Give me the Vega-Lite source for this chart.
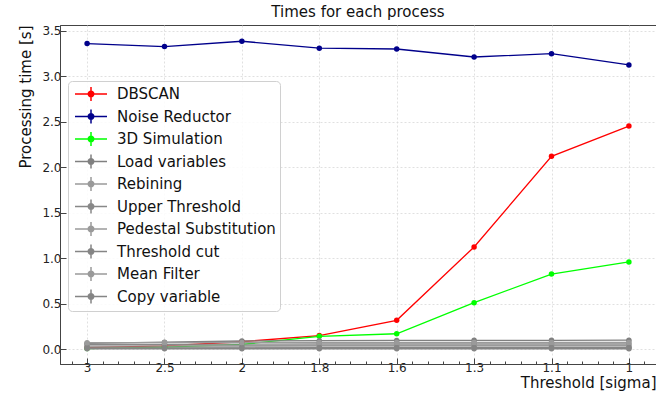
{
  "$schema": "https://vega.github.io/schema/vega-lite/v6.json",
  "autosize": "none",
  "width": 596,
  "height": 339,
  "padding": {"left": 60, "top": 25, "right": 0, "bottom": 32},
  "background": "white",
  "title": {"text": "Times for each process", "fontSize": 15, "font": "DejaVu Sans", "fontWeight": "normal", "color": "#111", "offset": 5, "anchor": "middle"},
  "config": {
    "font": "DejaVu Sans",
    "view": {"stroke": "#444", "strokeWidth": 1},
    "axis": {
      "labelFont": "DejaVu Sans", "labelFontSize": 12, "labelColor": "#222",
      "titleFont": "DejaVu Sans", "titleFontSize": 15, "titleFontWeight": "normal", "titleColor": "#111",
      "domainColor": "#444", "tickColor": "#444", "tickSize": -6, "tickWidth": 1,
      "gridColor": "#d8d8d8", "gridDash": [2, 2], "gridWidth": 0.8
    }
  },
  "datasets": {
    "times": [
      {"process": "DBSCAN", "threshold": "3", "time": 0.015},
      {"process": "DBSCAN", "threshold": "2.5", "time": 0.035},
      {"process": "DBSCAN", "threshold": "2", "time": 0.08},
      {"process": "DBSCAN", "threshold": "1.8", "time": 0.148},
      {"process": "DBSCAN", "threshold": "1.6", "time": 0.316},
      {"process": "DBSCAN", "threshold": "1.3", "time": 1.123},
      {"process": "DBSCAN", "threshold": "1.1", "time": 2.121},
      {"process": "DBSCAN", "threshold": "1", "time": 2.454},
      {"process": "Noise Reductor", "threshold": "3", "time": 3.362},
      {"process": "Noise Reductor", "threshold": "2.5", "time": 3.329},
      {"process": "Noise Reductor", "threshold": "2", "time": 3.387},
      {"process": "Noise Reductor", "threshold": "1.8", "time": 3.311},
      {"process": "Noise Reductor", "threshold": "1.6", "time": 3.302},
      {"process": "Noise Reductor", "threshold": "1.3", "time": 3.214},
      {"process": "Noise Reductor", "threshold": "1.1", "time": 3.25},
      {"process": "Noise Reductor", "threshold": "1", "time": 3.126},
      {"process": "3D Simulation", "threshold": "3", "time": 0.005},
      {"process": "3D Simulation", "threshold": "2.5", "time": 0.02},
      {"process": "3D Simulation", "threshold": "2", "time": 0.05},
      {"process": "3D Simulation", "threshold": "1.8", "time": 0.14},
      {"process": "3D Simulation", "threshold": "1.6", "time": 0.168},
      {"process": "3D Simulation", "threshold": "1.3", "time": 0.51},
      {"process": "3D Simulation", "threshold": "1.1", "time": 0.825},
      {"process": "3D Simulation", "threshold": "1", "time": 0.958},
      {"process": "Load variables", "threshold": "3", "time": 0.062},
      {"process": "Load variables", "threshold": "2.5", "time": 0.075},
      {"process": "Load variables", "threshold": "2", "time": 0.088},
      {"process": "Load variables", "threshold": "1.8", "time": 0.092},
      {"process": "Load variables", "threshold": "1.6", "time": 0.095},
      {"process": "Load variables", "threshold": "1.3", "time": 0.096},
      {"process": "Load variables", "threshold": "1.1", "time": 0.096},
      {"process": "Load variables", "threshold": "1", "time": 0.097},
      {"process": "Rebining", "threshold": "3", "time": 0.01},
      {"process": "Rebining", "threshold": "2.5", "time": 0.01},
      {"process": "Rebining", "threshold": "2", "time": 0.011},
      {"process": "Rebining", "threshold": "1.8", "time": 0.01},
      {"process": "Rebining", "threshold": "1.6", "time": 0.01},
      {"process": "Rebining", "threshold": "1.3", "time": 0.01},
      {"process": "Rebining", "threshold": "1.1", "time": 0.01},
      {"process": "Rebining", "threshold": "1", "time": 0.01},
      {"process": "Upper Threshold", "threshold": "3", "time": 0.05},
      {"process": "Upper Threshold", "threshold": "2.5", "time": 0.052},
      {"process": "Upper Threshold", "threshold": "2", "time": 0.054},
      {"process": "Upper Threshold", "threshold": "1.8", "time": 0.055},
      {"process": "Upper Threshold", "threshold": "1.6", "time": 0.055},
      {"process": "Upper Threshold", "threshold": "1.3", "time": 0.055},
      {"process": "Upper Threshold", "threshold": "1.1", "time": 0.055},
      {"process": "Upper Threshold", "threshold": "1", "time": 0.055},
      {"process": "Pedestal Substitution", "threshold": "3", "time": 0.035},
      {"process": "Pedestal Substitution", "threshold": "2.5", "time": 0.035},
      {"process": "Pedestal Substitution", "threshold": "2", "time": 0.036},
      {"process": "Pedestal Substitution", "threshold": "1.8", "time": 0.036},
      {"process": "Pedestal Substitution", "threshold": "1.6", "time": 0.036},
      {"process": "Pedestal Substitution", "threshold": "1.3", "time": 0.036},
      {"process": "Pedestal Substitution", "threshold": "1.1", "time": 0.036},
      {"process": "Pedestal Substitution", "threshold": "1", "time": 0.036},
      {"process": "Threshold cut", "threshold": "3", "time": 0.02},
      {"process": "Threshold cut", "threshold": "2.5", "time": 0.02},
      {"process": "Threshold cut", "threshold": "2", "time": 0.02},
      {"process": "Threshold cut", "threshold": "1.8", "time": 0.019},
      {"process": "Threshold cut", "threshold": "1.6", "time": 0.019},
      {"process": "Threshold cut", "threshold": "1.3", "time": 0.019},
      {"process": "Threshold cut", "threshold": "1.1", "time": 0.019},
      {"process": "Threshold cut", "threshold": "1", "time": 0.019},
      {"process": "Mean Filter", "threshold": "3", "time": 0.07},
      {"process": "Mean Filter", "threshold": "2.5", "time": 0.071},
      {"process": "Mean Filter", "threshold": "2", "time": 0.072},
      {"process": "Mean Filter", "threshold": "1.8", "time": 0.073},
      {"process": "Mean Filter", "threshold": "1.6", "time": 0.073},
      {"process": "Mean Filter", "threshold": "1.3", "time": 0.073},
      {"process": "Mean Filter", "threshold": "1.1", "time": 0.073},
      {"process": "Mean Filter", "threshold": "1", "time": 0.073},
      {"process": "Copy variable", "threshold": "3", "time": 0.003},
      {"process": "Copy variable", "threshold": "2.5", "time": 0.003},
      {"process": "Copy variable", "threshold": "2", "time": 0.003},
      {"process": "Copy variable", "threshold": "1.8", "time": 0.003},
      {"process": "Copy variable", "threshold": "1.6", "time": 0.003},
      {"process": "Copy variable", "threshold": "1.3", "time": 0.003},
      {"process": "Copy variable", "threshold": "1.1", "time": 0.003},
      {"process": "Copy variable", "threshold": "1", "time": 0.003}
    ],
    "minor": [{"m": 0}]
  },
  "layer": [
    {
      "data": {"name": "minor"},
      "mark": {"type": "point", "opacity": 0},
      "encoding": {
        "x": {
          "field": "m", "type": "quantitative",
          "scale": {"domain": [-0.35, 7.35], "nice": false, "zero": false},
          "axis": {
            "orient": "bottom", "values": [-0.2, 0.2, 0.4, 0.6, 0.8, 1.2, 1.4, 1.6, 1.8, 2.2, 2.4, 2.6, 2.8, 3.2, 3.4, 3.6, 3.8, 4.2, 4.4, 4.6, 4.8, 5.2, 5.4, 5.6, 5.8, 6.2, 6.4, 6.6, 6.8, 7.2],
            "labels": false, "domain": false, "grid": false, "title": null, "tickSize": -3
          }
        }
      }
    },
    {
      "data": {"name": "times"},
      "encoding": {
        "x": {
          "field": "threshold", "type": "ordinal",
          "sort": ["3", "2.5", "2", "1.8", "1.6", "1.3", "1.1", "1"],
          "scale": {"type": "point", "padding": 0.35},
          "axis": {"title": "Threshold [sigma]", "titleAnchor": "end", "labelAngle": 0, "labelPadding": 4, "titlePadding": 2, "grid": true, "orient": "bottom"}
        },
        "y": {
          "field": "time", "type": "quantitative",
          "scale": {"domain": [-0.165, 3.566], "nice": false, "zero": false},
          "axis": {"title": "Processing time [s]", "titleAnchor": "end", "values": [0, 0.5, 1, 1.5, 2, 2.5, 3, 3.5], "format": ".1f", "labelPadding": 5, "titlePadding": 8, "grid": true}
        },
        "color": {
          "field": "process", "type": "nominal",
          "scale": {
            "domain": ["DBSCAN", "Noise Reductor", "3D Simulation", "Load variables", "Rebining", "Upper Threshold", "Pedestal Substitution", "Threshold cut", "Mean Filter", "Copy variable"],
            "range": ["#ff0000", "#00008b", "#00ff00", "#808080", "#9a9a9a", "#888888", "#9a9a9a", "#858585", "#9a9a9a", "#858585"]
          },
          "legend": {
            "title": null, "orient": "none", "legendX": 8, "legendY": 56,
            "symbolType": "M-2,0H2M0,-0.875V0.875M0.34,0A0.34,0.34,0,1,1,-0.34,0A0.34,0.34,0,1,1,0.34,0Z",
            "symbolSize": 256, "symbolStrokeWidth": 1.5, "symbolOffset": 10,
            "labelFont": "DejaVu Sans", "labelFontSize": 15, "labelColor": "#111", "labelLimit": 300,
            "rowPadding": 2.5, "labelOffset": 17, "padding": 4,
            "fillColor": "rgba(255,255,255,0.85)", "strokeColor": "#d0d0d0", "cornerRadius": 4,
            "encode": {
              "symbols": {"update": {
                "fill": {"scale": "color", "field": "value"},
                "stroke": {"scale": "color", "field": "value"},
                "opacity": {"value": 1}
              }}
            }
          }
        }
      },
      "layer": [
        {"mark": {"type": "line", "strokeWidth": 1.3}},
        {"mark": {"type": "point", "filled": true, "size": 30, "opacity": 1}}
      ]
    }
  ],
  "resolve": {"scale": {"x": "independent"}, "axis": {"x": "independent"}}
}
